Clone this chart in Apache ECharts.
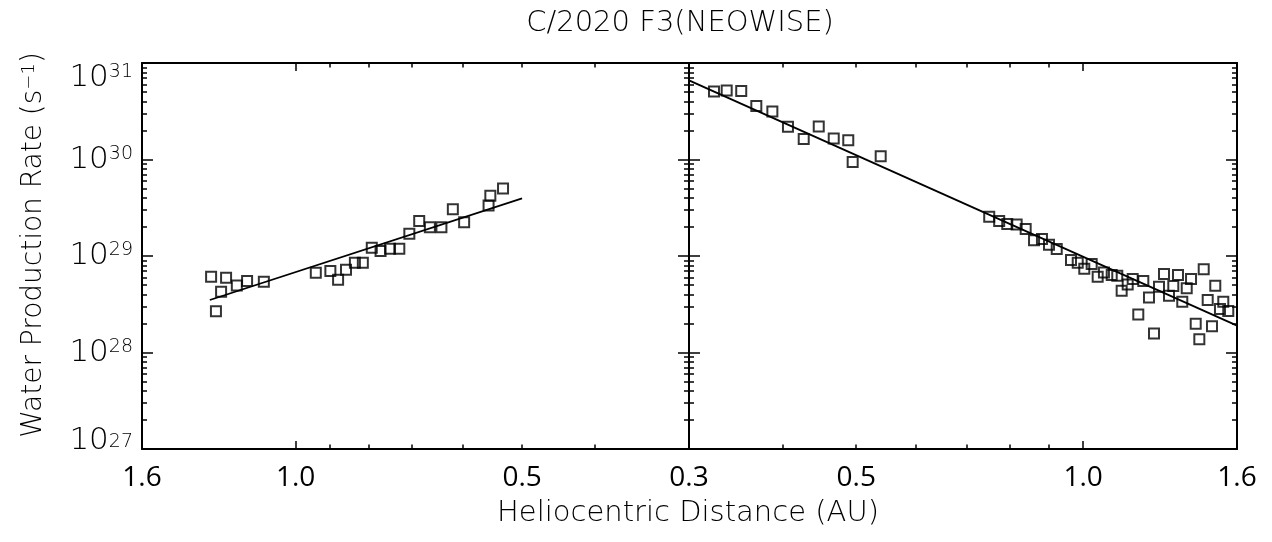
<!DOCTYPE html>
<html>
<head>
<meta charset="utf-8">
<script src="https://cdn.jsdelivr.net/npm/echarts@6/dist/echarts.min.js"></script>
<style>
  html, body { margin: 0; padding: 0; background: #fff; }
  #chart { width: 1272px; height: 542px; }
</style>
</head>
<body>
<div id="chart"></div>
<script>
// ---------------- data ----------------
const titleText = 'C/2020 F3(NEOWISE)';
const xTitle = 'Heliocentric Distance (AU)';

// Left panel (pre-perihelion, distance decreasing left to right)
const leftDist = [1.295, 1.276, 1.256, 1.237, 1.197, 1.160, 1.102, 0.940, 0.899, 0.878, 0.857, 0.834, 0.814,
                  0.792, 0.771, 0.749, 0.728, 0.706, 0.685, 0.663, 0.640, 0.618, 0.597, 0.554, 0.551, 0.530];
const leftRate = [6.1e28, 2.67e28, 4.26e28, 5.95e28, 4.96e28, 5.5e28, 5.4e28, 6.7e28, 6.98e28, 5.67e28, 7.2e28, 8.5e28, 8.5e28,
                  1.22e29, 1.13e29, 1.19e29, 1.19e29, 1.70e29, 2.31e29, 1.98e29, 1.98e29, 3.06e29, 2.24e29, 3.34e29, 4.2e29, 5.0e29];
const leftFitDist = [1.3, 0.5];
const leftFitRate = [3.5e28, 3.95e29];

// Right panel (post-perihelion)
const rightDist = [0.3238, 0.3366, 0.3519, 0.3685, 0.3870, 0.4059, 0.4259, 0.4459, 0.4668, 0.4880, 0.4946, 0.5388,
                   0.7506, 0.7738, 0.7931, 0.8162, 0.8390, 0.8607, 0.8818, 0.9010, 0.9225, 0.9636, 0.9836, 1.0035,
                   1.0264, 1.0454, 1.0656, 1.0912, 1.1099, 1.1249, 1.1458, 1.1634, 1.1835, 1.2018, 1.2228, 1.2417,
                   1.2608, 1.2802, 1.2999, 1.3171, 1.3361, 1.3537, 1.3722, 1.3904, 1.4104, 1.4261, 1.4453, 1.4630,
                   1.4823, 1.4973, 1.5189, 1.5344, 1.5579];
const rightRate = [5.06e30, 5.18e30, 5.13e30, 3.59e30, 3.14e30, 2.18e30, 1.63e30, 2.2e30, 1.65e30, 1.58e30, 9.44e29, 1.08e30,
                   2.55e29, 2.30e29, 2.14e29, 2.12e29, 1.91e29, 1.46e29, 1.50e29, 1.31e29, 1.18e29, 9.07e28, 8.5e28, 7.37e28,
                   8.25e28, 6.1e28, 6.76e28, 6.34e28, 6.24e28, 4.37e28, 5.08e28, 5.77e28, 2.48e28, 5.5e28, 3.72e28, 1.57e28,
                   4.8e28, 6.5e28, 3.87e28, 4.88e28, 6.34e28, 3.36e28, 4.62e28, 5.77e28, 1.99e28, 1.37e28, 7.31e28, 3.5e28,
                   1.87e28, 4.92e28, 2.82e28, 3.36e28, 2.69e28];
const rightFitDist = [0.3, 1.6];
const rightFitRate = [6.6e30, 1.9e28];

// axis ticks / labels
const xMin = 0.3, xMax = 1.6;
const xMajorTicks = [1.0];
const xMinorTicks = [0.4, 0.5, 0.6, 0.7, 0.8, 0.9];
const leftXLabels = [1.6, 1.0, 0.5, 0.3];
const rightXLabels = [0.5, 1.0, 1.6];
const yMin = 1e27, yMax = 1e31;
const yExponents = [27, 28, 29, 30, 31];
const yMantissas = [2, 3, 4, 5, 6, 7, 8, 9];

// ---------------- build ----------------
// keep end values a hair inside the extent so floating-point rounding of the log scale does not drop them
const inside = v => Math.min(Math.max(v, yMin * 1.000001), yMax * 0.999999);
const yMajorTicks = yExponents.map(e => inside(Number('1e' + e)));
const yMinorTicks = [];
yExponents.slice(0, -1).forEach(e => yMantissas.forEach(m => yMinorTicks.push(Number(m + 'e' + e))));

const pair = (xs, ys) => xs.map((x, i) => [x, ys[i]]);

const thinFont = 'DejaVu Sans';
const lineCol = '#000';

function xAxesFor(grid, inverse, labels) {
  const base = { type: 'log', logBase: 10, min: xMin, max: xMax, gridIndex: grid, inverse: inverse,
                 splitLine: { show: false }, axisPointer: { show: false } };
  const mainLine = { show: true, onZero: false, lineStyle: { color: lineCol, width: 2 } };
  const major = { show: true, inside: true, length: 8, customValues: xMajorTicks, lineStyle: { color: lineCol, width: 1.5 } };
  const minor = { show: true, inside: true, length: 4.5, customValues: xMinorTicks, lineStyle: { color: lineCol, width: 1.5 } };
  const xl = labels.map(v => Math.min(Math.max(v, xMin * 1.000001), xMax * 0.999999));
  return [
    Object.assign({}, base, { position: 'bottom', axisLine: mainLine, axisTick: major,
      axisLabel: { show: true, customValues: xl, formatter: v => Number(v).toFixed(1), margin: 15,
                   fontFamily: 'Open Sans', fontSize: 28, color: '#000' } }),
    Object.assign({}, base, { position: 'bottom', axisLine: { show: false }, axisTick: minor, axisLabel: { show: false } }),
    Object.assign({}, base, { position: 'top', axisLine: mainLine, axisTick: major, axisLabel: { show: false } }),
    Object.assign({}, base, { position: 'top', axisLine: { show: false }, axisTick: minor, axisLabel: { show: false } })
  ];
}

function yAxesFor(grid, showLabels) {
  const base = { type: 'log', logBase: 10, min: yMin, max: yMax, gridIndex: grid,
                 splitLine: { show: false }, axisPointer: { show: false } };
  const mainLine = { show: true, onZero: false, lineStyle: { color: lineCol, width: 2 } };
  const major = { show: true, inside: true, length: 11, customValues: yMajorTicks, lineStyle: { color: lineCol, width: 1.5 } };
  const minor = { show: true, inside: true, length: 5, customValues: yMinorTicks, lineStyle: { color: lineCol, width: 1.5 } };
  const label = showLabels ? {
    show: true, customValues: yMajorTicks, margin: 9,
    verticalAlignMaxLabel: 'top', verticalAlignMinLabel: 'bottom',
    formatter: v => {
      const e = Math.round(Math.log10(v));
      return e === yExponents[0] ? '{bl|10}{sl|' + e + '}' : '{b|10}{s|' + e + '}';
    },
    rich: {
      b: { fontFamily: thinFont, fontWeight: 200, fontSize: 31, color: '#000', lineHeight: 30 },
      s: { fontFamily: thinFont, fontWeight: 200, fontSize: 19, color: '#000', verticalAlign: 'top', lineHeight: 18 },
      bl: { fontFamily: thinFont, fontWeight: 200, fontSize: 31, color: '#000', lineHeight: 16 },
      sl: { fontFamily: thinFont, fontWeight: 200, fontSize: 19, color: '#000', verticalAlign: 'top', lineHeight: 4 }
    }
  } : { show: false };
  return [
    Object.assign({}, base, { position: 'left', axisLine: mainLine, axisTick: major, axisLabel: label }),
    Object.assign({}, base, { position: 'left', axisLine: { show: false }, axisTick: minor, axisLabel: { show: false } }),
    Object.assign({}, base, { position: 'right', axisLine: mainLine, axisTick: major, axisLabel: { show: false } }),
    Object.assign({}, base, { position: 'right', axisLine: { show: false }, axisTick: minor, axisLabel: { show: false } })
  ];
}

const symbolStyle = { color: 'rgba(0,0,0,0)', borderColor: '#000', borderWidth: 2 };

const option = {
  animation: false,
  backgroundColor: '#fff',
  grid: [
    { left: 142, top: 63, width: 547, height: 386, containLabel: false },
    { left: 689, top: 63, width: 548, height: 386, containLabel: false }
  ],
  xAxis: [].concat(xAxesFor(0, true, leftXLabels), xAxesFor(1, false, rightXLabels)),
  yAxis: [].concat(yAxesFor(0, true), yAxesFor(1, false)),
  graphic: [
    { type: 'text', x: 680, y: 23, silent: true,
      style: { text: titleText, fontFamily: thinFont, fontWeight: 200, fontSize: 29, fill: '#000',
               align: 'center', verticalAlign: 'middle' } },
    { type: 'text', x: 688, y: 513, silent: true,
      style: { text: xTitle, fontFamily: thinFont, fontWeight: 200, fontSize: 29, fill: '#000',
               align: 'center', verticalAlign: 'middle' } },
    { type: 'text', x: 34, y: 245, rotation: Math.PI / 2, silent: true,
      style: { text: 'Water Production Rate (s{s|−1})', fontFamily: thinFont, fontWeight: 200, fontSize: 28, fill: '#000',
               align: 'center', verticalAlign: 'middle',
               rich: { s: { fontFamily: thinFont, fontWeight: 200, fontSize: 18, fill: '#000', verticalAlign: 'top', lineHeight: 16 } } } }
  ],
  series: [
    { type: 'scatter', name: 'pre', xAxisIndex: 0, yAxisIndex: 0, data: pair(leftDist, leftRate),
      symbol: 'rect', symbolSize: 10, itemStyle: symbolStyle, z: 3 },
    { type: 'line', name: 'preFit', xAxisIndex: 0, yAxisIndex: 0, data: pair(leftFitDist, leftFitRate),
      showSymbol: false, symbol: 'none', lineStyle: { color: '#000', width: 1.8 }, z: 2 },
    { type: 'scatter', name: 'post', xAxisIndex: 4, yAxisIndex: 4, data: pair(rightDist, rightRate),
      symbol: 'rect', symbolSize: 10, itemStyle: symbolStyle, z: 3 },
    { type: 'line', name: 'postFit', xAxisIndex: 4, yAxisIndex: 4, data: pair(rightFitDist, rightFitRate),
      showSymbol: false, symbol: 'none', lineStyle: { color: '#000', width: 1.8 }, z: 2 }
  ]
};

const chart = echarts.init(document.getElementById('chart'), null, { renderer: 'canvas' });
chart.setOption(option);
</script>
</body>
</html>
